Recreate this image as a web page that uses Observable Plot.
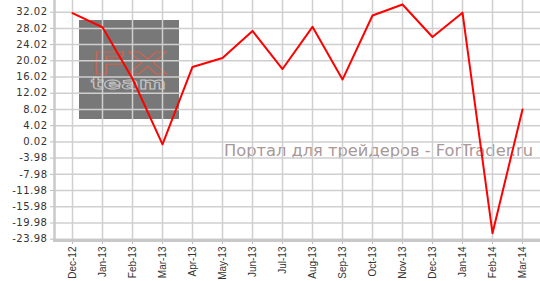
<!DOCTYPE html>
<html><head><meta charset="utf-8">
<script src="https://cdn.jsdelivr.net/npm/d3@7"></script>
<script src="https://cdn.jsdelivr.net/npm/@observablehq/plot@0.6"></script>
<style>
body{margin:0;background:#fff;}
#wrap{position:relative;width:540px;height:281px;overflow:hidden;}
#logo{position:absolute;left:79px;top:20px;width:100px;height:99px;background:#787878;}
#wm{position:absolute;left:0;top:0;}
#chart{position:absolute;left:0;top:0;}
#chart g[aria-label="y-axis tick label"] text{letter-spacing:0.5px;}
</style></head><body>
<div id="wrap">
 <div id="logo"><svg width="100" height="99">
  <text font-family="DejaVu Sans" font-weight="bold" fill="none"><tspan x="12" y="54" textLength="76" lengthAdjust="spacingAndGlyphs" font-size="31" stroke="#c8644f" stroke-width="1">FX</tspan><tspan x="12" y="69" textLength="75" lengthAdjust="spacingAndGlyphs" font-size="16" stroke="#c8c8c8" stroke-width="0.8">team</tspan></text>
 </svg></div>
 <svg id="wm" width="540" height="281"><text x="224" y="156" textLength="309" lengthAdjust="spacingAndGlyphs" font-family="DejaVu Sans" font-size="16" fill="#a89898">Портал для трейдеров - ForTrader.ru</text></svg>
 <div id="chart"></div>
</div>
<script>
const months = ["Dec-12","Jan-13","Feb-13","Mar-13","Apr-13","May-13","Jun-13","Jul-13","Aug-13","Sep-13","Oct-13","Nov-13","Dec-13","Jan-14","Feb-14","Mar-14"];
const values = [31.8,28.3,15.6,-0.6,18.5,20.7,27.4,18.0,28.4,15.4,31.2,33.9,25.9,31.9,-22.5,8.0];
const yTicks = [-23.98,-19.98,-15.98,-11.98,-7.98,-3.98,0.02,4.02,8.02,12.02,16.02,20.02,24.02,28.02,32.02];
const data = months.map((m,i)=>({month:m,value:values[i]}));
const chart = Plot.plot({
  width:540,height:281,marginLeft:54,marginRight:0,marginTop:0,marginBottom:41,
  style:{background:"transparent",fontFamily:"DejaVu Sans",fontSize:"10px",color:"#333"},
  x:{type:"point",domain:months,padding:0.54},
  y:{domain:[-24.3,34.9]},
  marks:[
    Plot.gridY(yTicks,{stroke:"#cfcfcf",strokeOpacity:1,strokeWidth:1.5}),
    Plot.gridX(months,{stroke:"#cfcfcf",strokeOpacity:1,strokeWidth:1.5}),
    Plot.axisY(yTicks,{tickFormat:d=>d.toFixed(2),tickSize:4,tickPadding:3,stroke:"#bbb",fill:"#333",label:null,fontFamily:"DejaVu Sans",fontSize:10}),
    Plot.axisX(months,{tickRotate:-90,tickSize:4,tickPadding:2,stroke:"#bbb",fill:"#333",label:null,fontFamily:"Liberation Sans",fontSize:10}),
    Plot.frame({anchor:"left",stroke:"#c8c8c8",strokeWidth:2.5}),
    Plot.frame({anchor:"bottom",stroke:"#c8c8c8",strokeWidth:3}),
    Plot.lineY(data,{x:"month",y:"value",stroke:"#ff0000",strokeWidth:2})
  ]
});
document.getElementById("chart").appendChild(chart);
</script>
</body></html>
